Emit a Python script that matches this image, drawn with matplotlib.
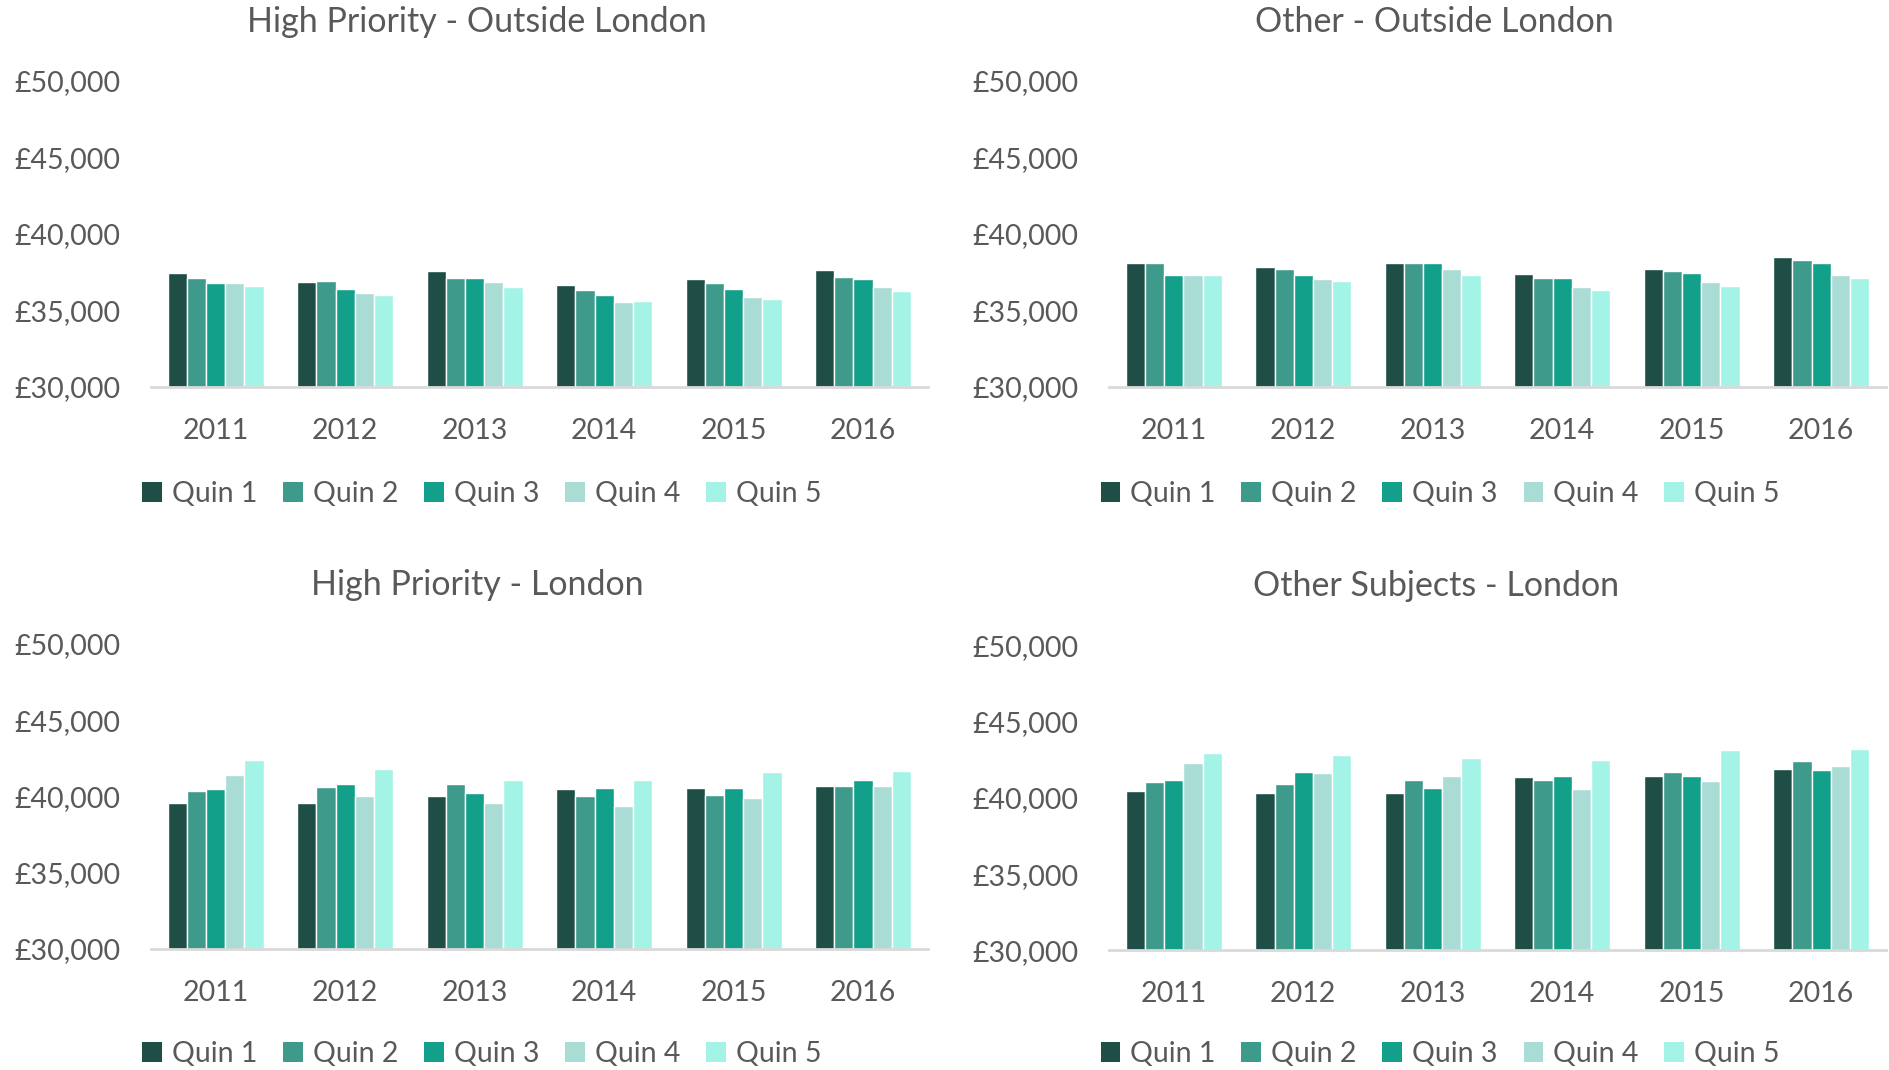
import numpy as np
import matplotlib.pyplot as plt
from matplotlib.patches import Patch

plt.rcParams['font.family'] = ['Lato', 'DejaVu Sans']

years = ['2011', '2012', '2013', '2014', '2015', '2016']
quins = ['Quin 1', 'Quin 2', 'Quin 3', 'Quin 4', 'Quin 5']
colors = ['#1F4E47', '#3E9A8B', '#12A08A', '#A8DCD5', '#A3F3E6']

# values per quintile, one list per year group
hp_outside = [
    [37480, 36890, 37570, 36690, 37040, 37650],
    [37150, 36950, 37150, 36340, 36780, 37210],
    [36780, 36430, 37150, 35990, 36430, 37040],
    [36780, 36160, 36890, 35550, 35900, 36510],
    [36600, 35990, 36510, 35640, 35720, 36250],
]
other_outside = [
    [38090, 37830, 38090, 37390, 37740, 38530],
    [38090, 37740, 38090, 37130, 37570, 38270],
    [37300, 37300, 38090, 37130, 37480, 38090],
    [37300, 37040, 37740, 36510, 36860, 37300],
    [37300, 36950, 37300, 36340, 36600, 37130],
]
hp_london = [
    [39580, 39580, 40020, 40460, 40550, 40720],
    [40370, 40640, 40810, 40020, 40110, 40720],
    [40460, 40810, 40200, 40550, 40550, 41070],
    [41430, 40020, 39580, 39410, 39930, 40720],
    [42390, 41780, 41070, 41070, 41600, 41670],
]
other_london = [
    [40480, 40310, 40310, 41360, 41450, 41890],
    [41010, 40920, 41180, 41180, 41710, 42410],
    [41180, 41710, 40660, 41450, 41450, 41800],
    [42320, 41620, 41450, 40570, 41100, 42060],
    [42940, 42830, 42590, 42500, 43110, 43200],
]

# title, data, axes rect, title (x, y), legend (x, y)
panels = [
    ('High Priority - Outside London', hp_outside, [0.0799, 0.6383, 0.411, 0.286], (0.2525, 0.979), (0.255, 0.538)),
    ('Other - Outside London', other_outside, [0.5868, 0.6383, 0.411, 0.286], (0.759, 0.979), (0.762, 0.538)),
    ('High Priority - London', hp_london, [0.0799, 0.1131, 0.411, 0.285], (0.2525, 0.453), (0.255, 0.015)),
    ('Other Subjects - London', other_london, [0.5868, 0.1118, 0.411, 0.285], (0.760, 0.452), (0.762, 0.015)),
]

text_col = '#595959'
fig = plt.figure(figsize=(18.9, 10.7), dpi=100)

x = np.arange(len(years))
w = 0.148
for title, data, rect, tpos, lpos in panels:
    ax = fig.add_axes(rect)
    for i, q in enumerate(quins):
        ax.bar(x + (i - 2) * w, np.array(data[i]) - 30000, bottom=30000, width=w,
               color=colors[i], edgecolor='white', linewidth=1.0)
    ax.set_xlim(-0.5, 5.5)
    ax.set_ylim(30000, 50000)
    ax.set_yticks(np.arange(30000, 50001, 5000))
    ax.set_yticklabels(['£{:,}'.format(v) for v in range(30000, 50001, 5000)])
    ax.set_xticks(x)
    ax.set_xticklabels(years)
    ax.tick_params(axis='y', length=0, pad=22, labelsize=20.5, labelcolor=text_col)
    ax.tick_params(axis='x', length=0, pad=22, labelsize=20.5, labelcolor=text_col)
    for s in ['top', 'right', 'left']:
        ax.spines[s].set_visible(False)
    ax.spines['bottom'].set_color('#D9D9D9')
    ax.spines['bottom'].set_linewidth(2)
    fig.text(tpos[0], tpos[1], title, ha='center', va='center', fontsize=24.5, color=text_col)
    handles = [Patch(facecolor=c, edgecolor='none') for c in colors]
    fig.legend(handles, quins, loc='center', bbox_to_anchor=lpos, ncol=5,
               frameon=False, fontsize=20.5, labelcolor=text_col,
               handlelength=0.7, handleheight=0.7, handletextpad=0.35,
               columnspacing=0.9)

fig.savefig('out.png')
